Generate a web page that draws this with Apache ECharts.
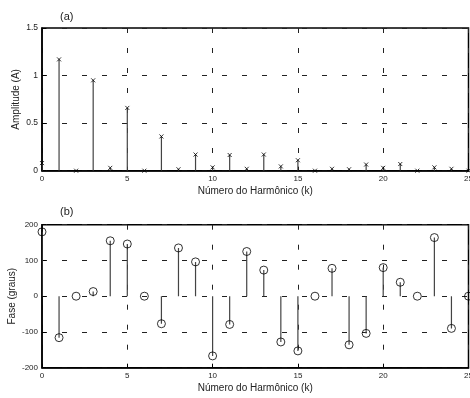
<!DOCTYPE html>
<html>
<head>
<meta charset="utf-8">
<script src="https://cdn.jsdelivr.net/npm/echarts@6/dist/echarts.min.js"></script>
<style>
html,body{margin:0;padding:0;background:#fff;}
#chart{width:470px;height:398px;}
</style>
</head>
<body>
<div id="chart"></div>
<script>
var harmonics = [0,1,2,3,4,5,6,7,8,9,10,11,12,13,14,15,16,17,18,19,20,21,22,23,24,25];
var amplitude = [0.08,1.17,0,0.95,0.03,0.66,0,0.36,0.015,0.17,0.035,0.165,0.02,0.17,0.045,0.11,0,0.02,0.015,0.065,0.03,0.07,0,0.035,0.02,0];
var phase = [180,-116,0,13,155,146,0,-77,135,96,-167,-79,125,73,-128,-153,0,78,-136,-104,80,39,0,164,-90,0];
var xTicks = [0,5,10,15,20,25];
var ampTicks = [0,0.5,1,1.5];
var phaseTicks = [-200,-100,0,100,200];
var titleA = '(a)', titleB = '(b)';
var xName = 'Número do Harmônico (k)';
var yNameA = 'Amplitude (A)', yNameB = 'Fase (graus)';

var FONT = 'Liberation Sans, Arial, sans-serif';
var TXT = '#222';

function pairs(vals){ return harmonics.map(function(k,i){ return [k, vals[i]]; }); }

function stemRender(params, api){
  var p0 = api.coord([api.value(0), 0]);
  var p1 = api.coord([api.value(0), api.value(1)]);
  return {type:'line', shape:{x1:p0[0],y1:p0[1],x2:p1[0],y2:p1[1]}, style:{stroke:'#444', lineWidth:1.2}};
}

function xAxisCfg(gi){
  return {
    type:'value', gridIndex:gi, min:xTicks[0], max:xTicks[xTicks.length-1], interval:5,
    name:xName, nameLocation:'middle', nameGap:16, nameMoveOverlap:false,
    nameTextStyle:{fontFamily:FONT, fontSize:10, color:TXT},
    axisLine:{show:true, onZero:false, lineStyle:{color:'#000', width:1.5}},
    axisTick:{show:true, inside:true, length:4, lineStyle:{color:'#000'}},
    axisLabel:{fontFamily:FONT, fontSize:8, color:TXT, margin:4},
    splitLine:{show:true, lineStyle:{color:'#222', width:1, type:[5,15]}}
  };
}
function yAxisCfg(gi, ticks, name, gap, fs){
  return {
    type:'value', gridIndex:gi, min:ticks[0], max:ticks[ticks.length-1], interval:ticks[1]-ticks[0],
    name:name, nameLocation:'middle', nameGap:gap, nameMoveOverlap:false,
    nameTextStyle:{fontFamily:FONT, fontSize:10, color:TXT},
    axisLine:{show:true, onZero:false, lineStyle:{color:'#000', width:1.5}},
    axisTick:{show:true, inside:true, length:4, lineStyle:{color:'#000'}},
    axisLabel:{fontFamily:FONT, fontSize:fs, color:TXT, margin:4},
    splitLine:{show:true, lineStyle:{color:'#222', width:1, type:[5,15]}}
  };
}

var chart = echarts.init(document.getElementById('chart'), null, {renderer:'canvas'});
chart.setOption({
  backgroundColor:'#fff',
  animation:false,
  title:[
    {text:titleA, left:55, top:6, textStyle:{fontFamily:FONT, fontSize:11, fontWeight:'normal', color:TXT}},
    {text:titleB, left:55, top:201, textStyle:{fontFamily:FONT, fontSize:11, fontWeight:'normal', color:TXT}}
  ],
  grid:[
    {left:42, right:1.5, top:28, height:142.7, containLabel:false, outerBoundsMode:'none', show:true, borderColor:'#000', borderWidth:1.5, backgroundColor:'transparent'},
    {left:42, right:1.5, top:224.7, height:143, containLabel:false, outerBoundsMode:'none', show:true, borderColor:'#000', borderWidth:1.5, backgroundColor:'transparent'}
  ],
  xAxis:[xAxisCfg(0), xAxisCfg(1)],
  yAxis:[yAxisCfg(0, ampTicks, yNameA, 21, 8.5), yAxisCfg(1, phaseTicks, yNameB, 25, 8)],
  series:[
    {type:'custom', xAxisIndex:0, yAxisIndex:0, data:pairs(amplitude), renderItem:stemRender, clip:true},
    {type:'scatter', xAxisIndex:0, yAxisIndex:0, data:pairs(amplitude), symbol:'path://M0,0L10,10M10,0L0,10', symbolSize:4,
      itemStyle:{color:'transparent', borderColor:'#000', borderWidth:1}},
    {type:'custom', xAxisIndex:1, yAxisIndex:1, data:pairs(phase), renderItem:stemRender, clip:true},
    {type:'scatter', xAxisIndex:1, yAxisIndex:1, data:pairs(phase), symbol:'circle', symbolSize:8,
      itemStyle:{color:'transparent', borderColor:'#000', borderWidth:1}}
  ]
});
</script>
</body>
</html>
